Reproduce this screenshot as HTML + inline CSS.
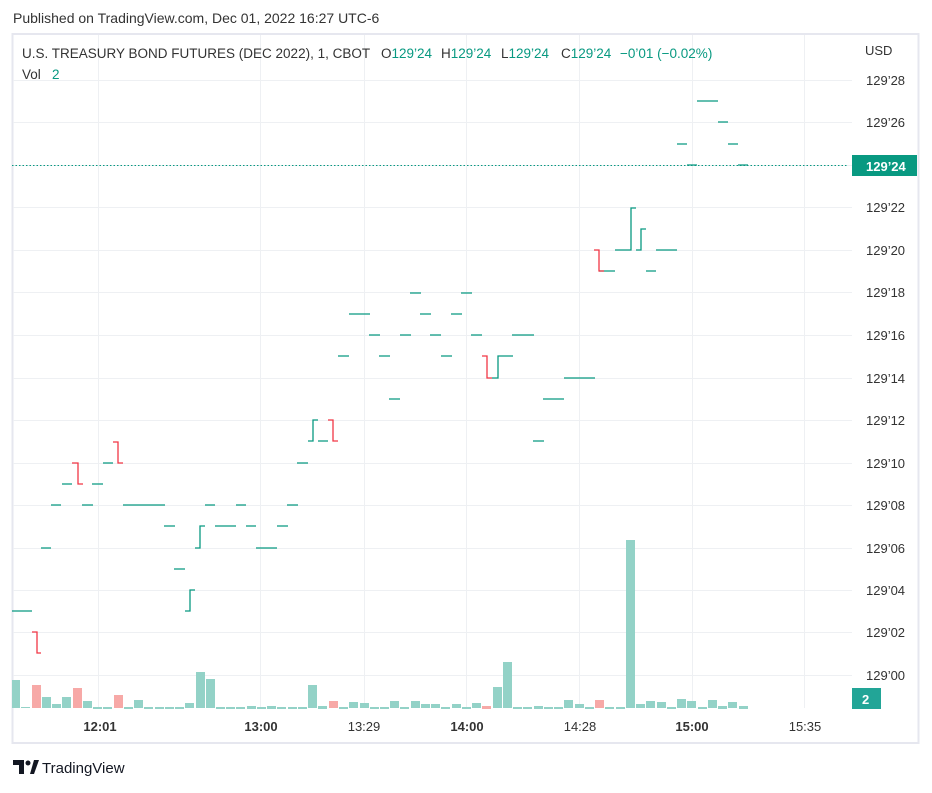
<!DOCTYPE html>
<html><head><meta charset="utf-8"><style>
body{margin:0;background:#fff;width:932px;height:788px;overflow:hidden;font-family:"Liberation Sans",sans-serif}
</style></head><body>
<svg width="932" height="788" xmlns="http://www.w3.org/2000/svg" font-family="Liberation Sans, sans-serif">
<text x="13" y="23" font-size="14" fill="#333">Published on TradingView.com, Dec 01, 2022 16:27 UTC-6</text>
<rect x="12.5" y="34" width="906" height="709" fill="none" stroke="#e6e7ef" stroke-width="2"/>
<g stroke="#eef0f3" stroke-width="1">
<path d="M13 80.5H852M13 122.5H852M13 165.5H852M13 207.5H852M13 250.5H852M13 292.5H852M13 335.5H852M13 378.5H852M13 420.5H852M13 463.5H852M13 505.5H852M13 548.5H852M13 590.5H852M13 632.5H852M13 675.5H852"/>
<path d="M98.5 35V708M260.5 35V708M364.5 35V708M466.5 35V708M579.5 35V708M692.5 35V708M804.5 35V708"/>
</g>
<g font-size="13.5" fill="#333">
<text x="22" y="58">U.S. TREASURY BOND FUTURES (DEC 2022), 1, CBOT</text>
<text x="381" y="58">O<tspan fill="#089981">129’24</tspan></text>
<text x="441" y="58">H<tspan fill="#089981">129’24</tspan></text>
<text x="501" y="58">L<tspan fill="#089981">129’24</tspan></text>
<text x="561" y="58">C<tspan fill="#089981">129’24</tspan></text>
<text x="620" y="58" fill="#089981">−0’01 (−0.02%)</text>
<text x="22" y="79">Vol</text>
<text x="52" y="79" fill="#089981">2</text>
</g>
<!-- volume -->
<g fill="#93d2c7">
<rect x="12" y="680" width="8" height="28"/><rect x="21" y="707" width="9" height="1"/><rect x="42" y="697" width="9" height="11"/><rect x="52" y="704" width="9" height="4"/><rect x="62" y="697" width="9" height="11"/><rect x="83" y="701" width="9" height="7"/><rect x="93" y="707" width="9" height="2"/><rect x="103" y="707" width="9" height="2"/><rect x="124" y="707" width="9" height="2"/><rect x="134" y="700" width="9" height="8"/><rect x="144" y="707" width="9" height="2"/><rect x="155" y="707" width="9" height="2"/><rect x="165" y="707" width="9" height="2"/><rect x="175" y="707" width="9" height="2"/><rect x="185" y="703" width="9" height="5"/><rect x="196" y="672" width="9" height="36"/><rect x="206" y="679" width="9" height="29"/><rect x="216" y="707" width="9" height="2"/><rect x="226" y="707" width="9" height="2"/><rect x="236" y="707" width="9" height="2"/><rect x="247" y="706" width="9" height="3"/><rect x="257" y="707" width="9" height="2"/><rect x="267" y="706" width="9" height="3"/><rect x="277" y="707" width="9" height="2"/><rect x="288" y="707" width="9" height="2"/><rect x="298" y="707" width="9" height="2"/><rect x="308" y="685" width="9" height="23"/><rect x="318" y="706" width="9" height="3"/>
<rect x="339" y="707" width="9" height="2"/><rect x="349" y="702" width="9" height="6"/><rect x="360" y="703" width="9" height="5"/><rect x="370" y="707" width="9" height="2"/><rect x="380" y="707" width="9" height="2"/><rect x="390" y="701" width="9" height="7"/><rect x="400" y="707" width="9" height="2"/><rect x="411" y="701" width="9" height="7"/><rect x="421" y="704" width="9" height="4"/><rect x="431" y="704" width="9" height="4"/><rect x="441" y="707" width="9" height="2"/><rect x="452" y="704" width="9" height="4"/><rect x="462" y="707" width="9" height="2"/><rect x="472" y="703" width="9" height="5"/><rect x="493" y="687" width="9" height="21"/><rect x="503" y="662" width="9" height="46"/><rect x="513" y="707" width="9" height="2"/><rect x="523" y="707" width="9" height="2"/><rect x="534" y="706" width="9" height="3"/><rect x="544" y="707" width="9" height="2"/><rect x="554" y="707" width="9" height="2"/><rect x="564" y="700" width="9" height="8"/><rect x="575" y="704" width="9" height="4"/><rect x="585" y="707" width="9" height="2"/><rect x="605" y="707" width="9" height="2"/><rect x="616" y="707" width="9" height="2"/><rect x="626" y="540" width="9" height="168"/><rect x="636" y="704" width="9" height="4"/><rect x="646" y="701" width="9" height="7"/><rect x="657" y="702" width="9" height="6"/><rect x="667" y="707" width="9" height="2"/><rect x="677" y="699" width="9" height="9"/><rect x="687" y="701" width="9" height="7"/><rect x="698" y="707" width="9" height="2"/><rect x="708" y="700" width="9" height="8"/><rect x="718" y="706" width="9" height="3"/><rect x="728" y="702" width="9" height="6"/><rect x="739" y="706" width="9" height="3"/>
</g>
<g fill="#f7a9a7">
<rect x="32" y="685" width="9" height="23"/><rect x="73" y="688" width="9" height="20"/><rect x="114" y="695" width="9" height="13"/><rect x="329" y="701" width="9" height="7"/><rect x="482" y="706" width="9" height="3"/><rect x="595" y="700" width="9" height="8"/>
</g>
<!-- price -->
<path d="M12 165.5H848" stroke="#089981" stroke-width="1" stroke-dasharray="1.5,2"/>
<g fill="none" stroke="#089981" stroke-width="1.3">
<path d="M12 611H32M41 548H51M51 505H61M62 484H72M82 505H93M92 484H103M103 463H113M123 505H165M164 526H175M174 569H185M185 611H190V590H195M195 548H200V526H205M205 505H215M215 526H236M236 505H246M246 526H256M256 548H277M277 526H288M287 505H298M297 463H308M308 441H313V420H318M318 441H328M338 356H349M349 314H370M369 335H380M379 356H390M389 399H400M400 335H411M410 293H421M420 314H431M430 335H441M441 356H452M451 314H462M461 293H472M471 335H482M492 378H498V356H513M512 335H534M533 441H544M543 399H564M564 378H595M599 271H615M615 250H625M625 250H631V208H636M636 250H641V229H646M646 271H656M656 250H677M677 144H687M687 165H697M697 101H718M718 122H728M728 144H738M738 165H748"/>
</g>
<g fill="none" stroke="#f23645" stroke-width="1.3">
<path d="M32 632H37V653H41M72 463H78V484H83M113 442H118V463H123M328 420H333V441H338M482 356H487V378H492M594 250H599V271H604"/>
</g>
<!-- axis labels -->
<g font-size="13" fill="#333">
<text x="865" y="55">USD</text>
<text x="866" y="85">129’28</text><text x="866" y="127">129’26</text><text x="866" y="212">129’22</text><text x="866" y="255">129’20</text><text x="866" y="297">129’18</text><text x="866" y="340">129’16</text><text x="866" y="383">129’14</text><text x="866" y="425">129’12</text><text x="866" y="468">129’10</text><text x="866" y="510">129’08</text><text x="866" y="553">129’06</text><text x="866" y="595">129’04</text><text x="866" y="637">129’02</text><text x="866" y="680">129’00</text>
</g>
<rect x="852" y="155" width="65" height="21" fill="#089981"/>
<text x="866" y="171" font-size="13" font-weight="bold" fill="#fff">129’24</text>
<rect x="852" y="688" width="29" height="21" fill="#22a597"/>
<text x="862" y="704" font-size="13" font-weight="bold" fill="#fff">2</text>
<g font-size="13" fill="#333" text-anchor="middle">
<text x="100" y="731" font-weight="bold">12:01</text><text x="261" y="731" font-weight="bold">13:00</text><text x="364" y="731">13:29</text><text x="467" y="731" font-weight="bold">14:00</text><text x="580" y="731">14:28</text><text x="692" y="731" font-weight="bold">15:00</text><text x="805" y="731">15:35</text>
</g>
<!-- logo -->
<g fill="#131722">
<path d="M13 760H24V774H19V765H13Z"/><circle cx="28" cy="763" r="2.5"/><path d="M30 774L34 760H39L34 774Z"/>
</g>
<text x="42" y="773" font-size="15" fill="#131722">TradingView</text>
</svg>
</body></html>
